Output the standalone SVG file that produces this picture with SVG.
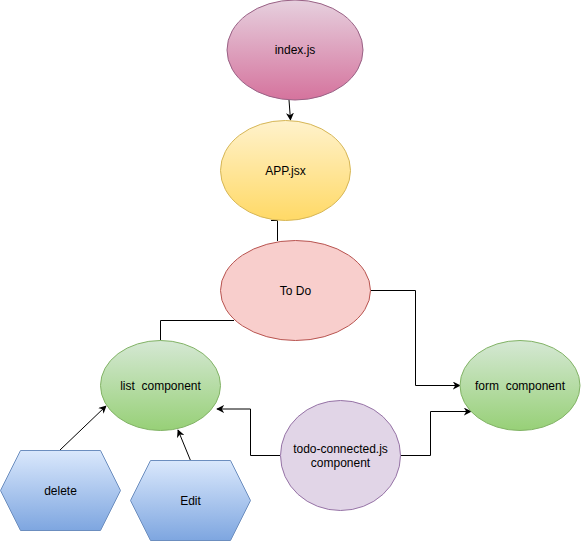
<svg xmlns="http://www.w3.org/2000/svg" width="581" height="541" viewBox="0 0 581 541">
<style>
text{font-family:"Liberation Sans",Arial,sans-serif;font-size:12px;fill:#000;text-anchor:middle;dominant-baseline:central}
.c{fill:none;stroke:#000;stroke-width:1}
</style>
<defs>
<linearGradient id="gPink" x1="0" y1="0" x2="0" y2="1"><stop offset="0" stop-color="#e6d0de"/><stop offset="1" stop-color="#d5739d"/></linearGradient>
<linearGradient id="gYel" x1="0" y1="0" x2="0" y2="1"><stop offset="0" stop-color="#fff2cc"/><stop offset="1" stop-color="#ffd966"/></linearGradient>
<linearGradient id="gGrn" x1="0" y1="0" x2="0" y2="1"><stop offset="0" stop-color="#d5e8d4"/><stop offset="1" stop-color="#97d077"/></linearGradient>
<linearGradient id="gBlu" x1="0" y1="0" x2="0" y2="1"><stop offset="0" stop-color="#dae8fc"/><stop offset="1" stop-color="#7ea6e0"/></linearGradient>
<marker id="arr" viewBox="0 0 10 10" refX="9" refY="5" markerWidth="8" markerHeight="8" markerUnits="userSpaceOnUse" orient="auto">
<path d="M0,0 L10,5 L0,10 L3,5 z" fill="#000"/>
</marker>
</defs>
<g id="connectors">
<path class="c" d="M289,100 L290.5,120" marker-end="url(#arr)"/>
<path class="c" d="M271,220.5 L277.5,220.5 L277.5,241"/>
<path class="c" d="M370.5,290.5 L415.5,290.5 L415.5,385.5 L460,385.5" marker-end="url(#arr)"/>
<path class="c" d="M234,320.5 L160.5,320.5 L160.5,340.5"/>
<path class="c" d="M400.5,455.5 L430.5,455.5 L430.5,411.5 L471,411.5" marker-end="url(#arr)"/>
<path class="c" d="M280,455.5 L250.5,455.5 L250.5,409 L217,409" marker-end="url(#arr)"/>
<path class="c" d="M60,450 L106,406" marker-end="url(#arr)"/>
<path class="c" d="M190.5,460.5 L178,430" marker-end="url(#arr)"/>
</g>
<g id="index">
<ellipse cx="295" cy="50" rx="68" ry="50" fill="url(#gPink)" stroke="#996185"/>
<text x="295" y="50">index.js</text>
</g>
<g id="app">
<ellipse cx="285.5" cy="170.5" rx="65" ry="50" fill="url(#gYel)" stroke="#d6b656"/>
<text x="285.5" y="171">APP.jsx</text>
</g>
<g id="todo">
<ellipse cx="295.5" cy="290.5" rx="75" ry="50" fill="#f8cecc" stroke="#b85450"/>
<text x="295.5" y="291">To Do</text>
</g>
<g id="list">
<ellipse cx="160.5" cy="385.5" rx="60" ry="45" fill="url(#gGrn)" stroke="#82b366"/>
<text x="160.5" y="386" xml:space="preserve">list  component</text>
</g>
<g id="form">
<ellipse cx="520" cy="385.5" rx="60" ry="45" fill="url(#gGrn)" stroke="#82b366"/>
<text x="520" y="386" xml:space="preserve">form  component</text>
</g>
<g id="connected">
<ellipse cx="340.5" cy="455.5" rx="60" ry="55" fill="#e1d5e7" stroke="#9673a6"/>
<text x="340.5" y="449">todo-connected.js</text>
<text x="340.5" y="463">component</text>
</g>
<g id="delete">
<polygon points="0.5,490.5 20.5,450.5 100.5,450.5 120.5,490.5 100.5,530.5 20.5,530.5" fill="url(#gBlu)" stroke="#6c8ebf"/>
<text x="60.5" y="491">delete</text>
</g>
<g id="edit">
<polygon points="130.5,500.5 150.5,460.5 230.5,460.5 250.5,500.5 230.5,540.5 150.5,540.5" fill="url(#gBlu)" stroke="#6c8ebf"/>
<text x="190.5" y="501">Edit</text>
</g>
</svg>
